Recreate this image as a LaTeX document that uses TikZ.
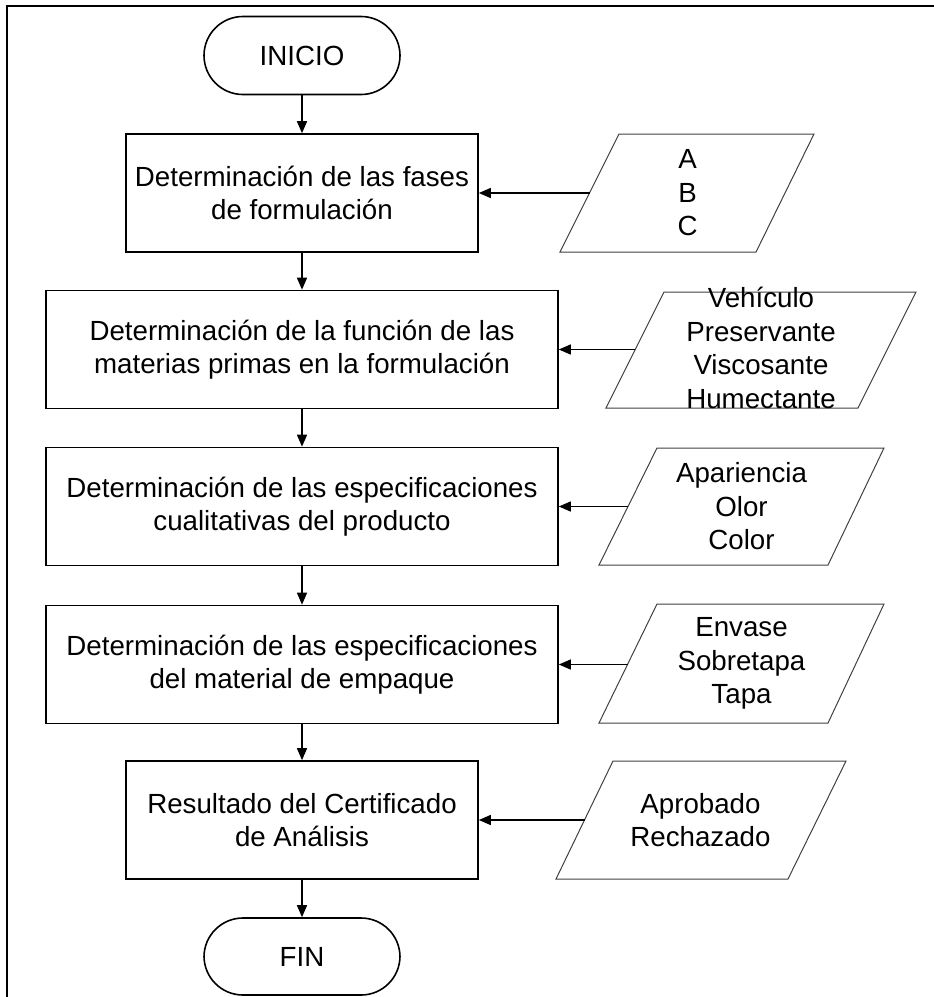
\documentclass[tikz,border=0pt]{standalone}
\usepackage{fontspec}
\setmainfont{Liberation Sans}
\usetikzlibrary{positioning,arrows.meta}

\begin{document}
\begin{tikzpicture}[x=1pt,y=-1pt,
        font=\fontsize{27.7}{33.5}\selectfont,
        process/.style={draw, line width=1.6pt, align=center, minimum height=118pt, inner sep=0pt},
        terminal/.style={draw, line width=1.6pt, rounded corners=39pt, minimum width=196pt, minimum height=78pt},
        datashape/.style={draw=black!75, line width=1pt},
        datatext/.style={align=center, inner sep=0pt},
        flow/.style={-{Triangle[length=12pt,width=10pt]}, line width=1.4pt}]

        % Page size and frame (top and left edges only)
        \useasboundingbox (0,0) rectangle (934,997);
        \draw[line width=2.5pt] (7,997) -- (7,6) -- (934,6);

        % --- Main flow ---
        \node[terminal] (inicio) at (302,55.5) {INICIO};
        \node[process, minimum width=352pt] (fases) at (302,193)
            {Determinación de las fases\\de formulación};
        \node[process, minimum width=512pt] (funcion) at (302,349.5)
            {Determinación de la función de las\\materias primas en la formulación};
        \node[process, minimum width=512pt] (cualit) at (302,506.5)
            {Determinación de las especificaciones\\cualitativas del producto};
        \node[process, minimum width=512pt] (empaque) at (302,664.5)
            {Determinación de las especificaciones\\del material de empaque};
        \node[process, minimum width=352pt] (certif) at (302,820)
            {Resultado del Certificado\\de Análisis};
        \node[terminal, minimum height=77pt] (fin) at (302,956.5) {FIN};

        \draw[flow] (inicio) -- (fases);
        \draw[flow] (fases) -- (funcion);
        \draw[flow] (funcion) -- (cualit);
        \draw[flow] (cualit) -- (empaque);
        \draw[flow] (empaque) -- (certif);
        \draw[flow] (certif) -- (fin);

        % --- Input data (parallelograms) ---
        % Phases
        \draw[datashape] (619,134) -- (814,134) -- (756,252) -- (560,252) -- cycle;
        \coordinate (inFases) at (589.5,193);
        \node[datatext] (dFases) at (687.5,193) {A\\B\\C};

        % Raw material functions
        \draw[datashape] (664,292) -- (916,292) -- (858,408) -- (606,408) -- cycle;
        \coordinate (inFuncion) at (635,349.5);
        \node[datatext] (dFuncion) at (761,348) {Vehículo\\Preservante\\Viscosante\\Humectante};

        % Qualitative specifications
        \draw[datashape] (657,448) -- (884,448) -- (828,565) -- (599,565) -- cycle;
        \coordinate (inCualit) at (628,506.5);
        \node[datatext] (dCualit) at (741.5,506.5) {Apariencia\\Olor\\Color};

        % Packaging
        \draw[datashape] (657,604) -- (884,604) -- (828,723) -- (599,723) -- cycle;
        \coordinate (inEmpaque) at (628,664.5);
        \node[datatext] (dEmpaque) at (741.5,663.5) {Envase\\Sobretapa\\Tapa};

        % Certificate result
        \draw[datashape] (613,761) -- (846,761) -- (788,879) -- (556,879) -- cycle;
        \coordinate (inCertif) at (584.5,820);
        \node[datatext] (dCertif) at (700.5,820) {Aprobado\\Rechazado};

        \draw[flow] (inFases) -- (inFases -| fases.east);
        \draw[flow] (inFuncion) -- (inFuncion -| funcion.east);
        \draw[flow] (inCualit) -- (inCualit -| cualit.east);
        \draw[flow] (inEmpaque) -- (inEmpaque -| empaque.east);
        \draw[flow] (inCertif) -- (inCertif -| certif.east);

    \end{tikzpicture}
\end{document}
